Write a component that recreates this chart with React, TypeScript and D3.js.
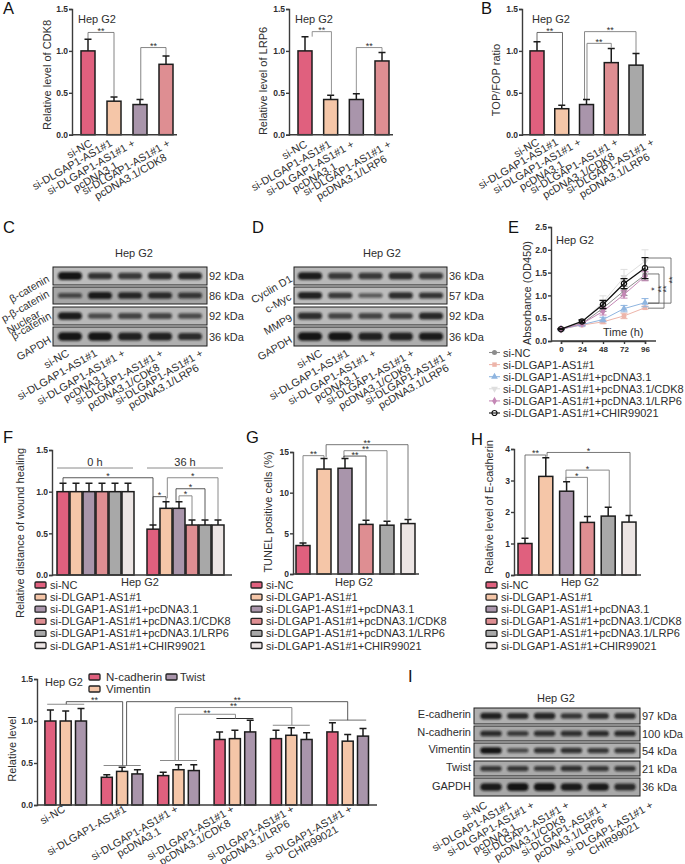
import * as d3 from 'd3';
import React, { useEffect, useRef } from 'react';

const FONT = '"Liberation Sans", Arial, sans-serif';
const INK = '#2e2e2e';
const GREY = '#8a8a8a';

const barColors = ['#e0607e', '#f5c6a8', '#a995ab', '#de8e92', '#a8a8a8', '#ece5e4'];

// category labels
const labelsLRP = [['si-NC'], ['si-DLGAP1-AS1#1'], ['si-DLGAP1-AS1#1 +', 'pcDNA3.1'], ['si-DLGAP1-AS1#1 +', 'pcDNA3.1/LRP6']];
const labelsCDK = [['si-NC'], ['si-DLGAP1-AS1#1'], ['si-DLGAP1-AS1#1 +', 'pcDNA3.1'], ['si-DLGAP1-AS1#1 +', 'pcDNA3.1/CDK8']];
const labelsBoth = [...labelsCDK, ['si-DLGAP1-AS1#1 +', 'pcDNA3.1/LRP6']];
const labelsAll = [...labelsBoth, ['si-DLGAP1-AS1#1 +', 'CHIR99021']];
const legendNames = [
  'si-NC',
  'si-DLGAP1-AS1#1',
  'si-DLGAP1-AS1#1+pcDNA3.1',
  'si-DLGAP1-AS1#1+pcDNA3.1/CDK8',
  'si-DLGAP1-AS1#1+pcDNA3.1/LRP6',
  'si-DLGAP1-AS1#1+CHIR99021',
];

// from, to, top value, left end value, right end value, colour
type Bracket = [number, number, number, number, number, string, string?];

// A
const cdk8Values = [1.0, 0.4, 0.36, 0.84];
const cdk8Errors = [1.14, 0.45, 0.42, 0.94];
const cdk8Brackets: Bracket[] = [
  [0, 1, 1.22, 1.14, 0.46, '#666'],
  [2.03, 3, 1.04, 0.42, 0.94, '#666'],
];
const lrp6Values = [1.0, 0.42, 0.42, 0.88];
const lrp6Errors = [1.17, 0.47, 0.49, 0.98];
const lrp6Brackets: Bracket[] = [
  [0.28, 1.03, 1.23, 1.17, 0.48, '#777'],
  [2, 3, 1.04, 0.49, 0.98, '#777'],
];

// B
const topValues = [1.0, 0.31, 0.36, 0.86, 0.83];
const topErrors = [1.11, 0.35, 0.42, 1.03, 0.97];
const topBrackets: Bracket[] = [
  [0, 1.03, 1.22, 1.11, 0.35, '#444'],
  [1.92, 4, 1.23, 0.41, 0.97, GREY],
  [2.02, 3, 1.09, 0.42, 1.04, GREY],
];

// E
const hours = [0, 24, 48, 72, 96];
const eColors = ['#8c8c8c', '#edb5aa', '#8fb5e0', '#dedede', '#c487b5', '#111111'];
const eSymbols = [d3.symbolCircle, d3.symbolSquare, d3.symbolTriangle, d3.symbolTriangle, d3.symbolDiamond, d3.symbolCircle];
const eMeans = [
  [0.26, 0.38, 0.72, 1.1, 1.45],
  [0.26, 0.35, 0.42, 0.55, 0.73],
  [0.26, 0.36, 0.47, 0.71, 0.84],
  [0.26, 0.42, 0.85, 1.4, 1.75],
  [0.26, 0.38, 0.65, 1.02, 1.42],
  [0.26, 0.43, 0.8, 1.26, 1.6],
];
const eErrs = [
  [0.01, 0.02, 0.07, 0.1, 0.12],
  [0.01, 0.02, 0.04, 0.06, 0.03],
  [0.01, 0.02, 0.05, 0.07, 0.09],
  [0.01, 0.05, 0.14, 0.17, 0.25],
  [0.01, 0.03, 0.08, 0.08, 0.1],
  [0.01, 0.03, 0.09, 0.11, 0.23],
];
// top value, bottom value of the brackets right of 96 h
const eBrackets = [
  [1.47, 0.83],
  [1.62, 0.72],
  [1.82, 0.83],
];
// mark, value it sits at
const eMarks: [string, number][] = [['*', 1.14], ['**', 1.14], ['**', 1.14], ['**', 1.34]];

// F
const woundValues = [1, 1, 1, 1, 1, 1, 0.55, 0.8, 0.8, 0.6, 0.6, 0.6];
const woundErrors = [1.1, 1.1, 1.1, 1.1, 1.1, 1.1, 0.6, 0.88, 0.88, 0.66, 0.66, 0.66];
const woundColors = [...barColors, ...barColors];
const woundBrackets: Bracket[] = [
  [0, 6, 1.167, 1.1, 0.6, INK, '*'],
  [6, 7, 0.94, 0.6, 0.88, INK, '*'],
  [7.1, 11, 1.167, 0.92, 0.666, GREY, '*'],
  [7.77, 10, 1.035, 0.89, 0.666, INK, '*'],
  [8, 9, 0.95, 0.89, 0.666, GREY, '*'],
];

// G
const tunelValues = [3.5, 12.9, 13, 6.1, 6.0, 6.2];
const tunelErrors = [3.8, 14.2, 14.2, 6.6, 6.5, 6.7];
const tunelBrackets: Bracket[] = [
  [0, 1, 14.55, 3.85, 14.2, GREY, '**'],
  [1.1, 5, 15.9, 14.4, 6.85, '#555', '**'],
  [1.95, 4, 15.16, 14.3, 6.65, GREY, '**'],
  [1.95, 3, 14.5, 14.3, 6.7, INK, '**'],
];

// H
const ecadValues = [1.0, 3.13, 2.66, 1.67, 1.87, 1.68];
const ecadErrors = [1.17, 3.72, 2.96, 1.86, 2.15, 1.89];
const ecadBrackets: Bracket[] = [
  [0, 1, 3.81, 1.19, 3.73, '#555', '**'],
  [1.06, 5.05, 3.89, 3.76, 1.9, '#555', '*'],
  [1.97, 4.05, 3.33, 2.99, 2.16, GREY, '*'],
  [1.97, 3, 3.1, 2.99, 1.88, GREY, '*'],
];

// bottom grouped chart
const seriesNames = ['N-cadherin', 'Vimentin', 'Twist'];
const groupValues = [
  [1, 1, 1],
  [0.33, 0.4, 0.37],
  [0.35, 0.42, 0.41],
  [0.78, 0.79, 0.87],
  [0.79, 0.83, 0.78],
  [0.87, 0.76, 0.82],
];
const groupErrors = [
  [1.13, 1.12, 1.15],
  [0.36, 0.45, 0.42],
  [0.39, 0.48, 0.48],
  [0.87, 0.89, 1.01],
  [0.89, 0.92, 0.86],
  [0.98, 0.84, 0.91],
];
const groupCaps = [1.2, 0.47, 0.53, 1.03, 0.95, 1.01];
const groupBrackets: Bracket[] = [
  [0.01, 1.01, 1.23, 1.2, 0.47, INK, '**'],
  [1.08, 5, 1.23, 0.47, 1.01, INK, '**'],
  [1.94, 4.01, 1.16, 0.53, 0.95, GREY, '**'],
  [2, 3.01, 1.08, 0.53, 1.03, GREY, '**'],
];

// blots: band strength per lane
const blotC = {
  kda: ['92 kDa', '86 kDa', '92 kDa', '36 kDa'],
  tone: ['#bcbcbc', '#a6a6a6', '#b8b8b8', '#b0b0b0'],
  bands: [
    [1.0, 0.75, 0.7, 0.8, 0.85],
    [0.55, 0.95, 0.85, 0.8, 0.7],
    [0.95, 0.55, 0.6, 0.6, 0.55],
    [1.0, 1.0, 0.9, 0.9, 0.8],
  ],
};
const blotD = {
  kda: ['36 kDa', '57 kDa', '92 kDa', '36 kDa'],
  tone: ['#b8b8b8', '#bcbcbc', '#bababa', '#aeaeae'],
  bands: [
    [0.95, 0.7, 0.7, 0.8, 0.7],
    [0.9, 0.7, 0.45, 0.8, 0.75],
    [0.8, 0.6, 0.6, 0.65, 0.85],
    [1.0, 1.0, 0.9, 0.9, 0.95],
  ],
};
const blotI = {
  rows: ['E-cadherin', 'N-cadherin', 'Vimentin', 'Twist', 'GAPDH'],
  kda: ['97 kDa', '100 kDa', '54 kDa', '21 kDa', '36 kDa'],
  tone: ['#b0b0b0', '#a8a8a8', '#b0b0b0', '#aaaaaa', '#a8a8a8'],
  bands: [
    [0.9, 0.8, 0.85, 0.7, 0.75, 0.75],
    [0.8, 0.65, 0.75, 0.75, 0.8, 0.8],
    [1.0, 0.55, 0.75, 0.75, 0.7, 0.7],
    [0.7, 0.7, 0.65, 0.75, 0.7, 0.7],
    [0.95, 1.0, 1.0, 0.95, 0.95, 0.8],
  ],
};

const T = (p: any) => <text fontFamily={FONT} fill={INK} fontSize={11} {...p} />;

const YAxis: React.FC<{ y: any; x: number; ticks: number[]; fmt: string }> = ({ y, x, ticks, fmt }) => {
  const ref = useRef<SVGGElement | null>(null);
  useEffect(() => {
    if (!ref.current) return;
    const g = d3.select(ref.current);
    g.call(d3.axisLeft(y).tickValues(ticks).tickFormat(d3.format(fmt) as any).tickSize(3).tickPadding(1) as any);
    g.selectAll('path,line').attr('stroke', '#3c3c3c').attr('stroke-width', 1.4);
    g.selectAll('text').attr('font-family', FONT).attr('font-weight', 'bold').attr('font-size', 8.5).attr('fill', INK);
  }, [y, ticks, fmt]);
  return <g ref={ref} transform={`translate(${x},0)`} />;
};

const XAxisTicks: React.FC<{ x: any; y: number; ticks: number[] }> = ({ x, y, ticks }) => {
  const ref = useRef<SVGGElement | null>(null);
  useEffect(() => {
    if (!ref.current) return;
    const g = d3.select(ref.current);
    g.call(d3.axisBottom(x).tickValues(ticks).tickFormat(d3.format('d') as any).tickSize(3).tickPadding(2) as any);
    g.selectAll('path,line').attr('stroke', '#3c3c3c').attr('stroke-width', 1.4);
    g.selectAll('text').attr('font-family', FONT).attr('font-weight', 'bold').attr('font-size', 8).attr('fill', INK);
  }, [x, y, ticks]);
  return <g ref={ref} transform={`translate(0,${y})`} />;
};

const Brackets: React.FC<{ list: Bracket[]; x: any; y: any }> = ({ list, x, y }) => (
  <g>
    {list.map((b, i) => {
      const [from, to, top, l, r, color, mark] = b;
      const path = d3.line()([[x(from), y(l)], [x(from), y(top)], [x(to), y(top)], [x(to), y(r)]]);
      return (
        <g key={i}>
          <path d={path as string} fill="none" stroke={color} strokeWidth={color === GREY ? 1 : 0.8} />
          <T x={(x(from) + x(to)) / 2} y={y(top) + 1.5} textAnchor="middle" fontSize={9}>{mark ?? '**'}</T>
        </g>
      );
    })}
  </g>
);

const Bars: React.FC<{ cx: number[]; values: number[]; errors: number[]; colors: string[]; y: any; w: number }> = ({ cx, values, errors, colors, y, w }) => (
  <g>
    {values.map((v, i) => (
      <g key={i} stroke="#1c1c1c" strokeWidth={1.5}>
        <path d={`M${cx[i]},${y(v)}V${y(errors[i])}M${cx[i] - 3.5},${y(errors[i])}H${cx[i] + 3.5}`} fill="none" />
        <rect x={cx[i] - w / 2} y={y(v)} width={w} height={y(0) - y(v)} fill={colors[i]} />
      </g>
    ))}
  </g>
);

// rotated labels, anchored at the middle of the end of the first line; second line centred under it
const CatLabels: React.FC<{ labels: string[][]; ends: number[]; y: number; fs: number }> = ({ labels, ends, y, fs }) => (
  <g>
    {labels.map((lines, i) => (
      <g key={i} transform={`translate(${ends[i]},${y}) rotate(-30)`}>
        <T x={0} y={fs * 0.35} textAnchor="end" fontSize={fs}>{lines[0]}</T>
        {lines[1] && <T x={-fs * 4.6 - 1} y={fs * 0.35 + fs * 0.98} textAnchor="middle" fontSize={fs}>{lines[1]}</T>}
      </g>
    ))}
  </g>
);

const YTitle: React.FC<{ x: number; y: number; children: any }> = ({ x, y, children }) => (
  <T transform={`translate(${x},${y}) rotate(-90)`} textAnchor="middle">{children}</T>
);

const BarLegend: React.FC<{ x: number; y: number }> = ({ x, y }) => {
  const row = d3.scaleLinear().domain([0, 5]).range([y, y + 60.5]);
  return (
    <g>
      {legendNames.map((n, i) => (
        <g key={n}>
          <rect x={x} y={row(i) - 3} width={11} height={6} rx={1} fill={barColors[i]} stroke="#222" strokeWidth={1.3} />
          <T x={x + 15} y={row(i) + 4}>{n}</T>
        </g>
      ))}
    </g>
  );
};

const Blot: React.FC<{ id: string; data: any; x0: number; x1: number; lanes: [number, number]; rowY: [number, number][] }> = ({ id, data, x0, x1, lanes, rowY }) => {
  const n = data.bands[0].length;
  const lane = d3.scaleLinear().domain([0, n - 1]).range(lanes);
  const pitch = (lanes[1] - lanes[0]) / (n - 1);
  return (
    <g>
      {data.bands.map((row: number[], r: number) => {
        const [top, bot] = rowY[r];
        const h = bot - top;
        const mid = (top + bot) / 2;
        return (
          <g key={r}>
            <clipPath id={`${id}${r}`}><rect x={x0} y={top} width={x1 - x0} height={h} /></clipPath>
            <rect x={x0} y={top} width={x1 - x0} height={h} fill={data.tone[r]} />
            <g clipPath={`url(#${id}${r})`}>
              {row.map((s, i) => {
                const bh = h * (0.14 + 0.3 * s);
                return (
                  <rect key={i} x={lane(i) - pitch * 0.4} y={mid - bh / 2} width={pitch * 0.8} height={bh} rx={bh / 2}
                    fill="#101010" opacity={0.25 + s * 0.7} filter="url(#bandBlur)" />
                );
              })}
            </g>
            <rect x={x0} y={top} width={x1 - x0} height={h} fill="none" stroke="#1c1c1c" strokeWidth={1} />
          </g>
        );
      })}
      {data.kda.map((k: string, r: number) => (
        <T key={k + r} x={x1 + 2} y={(rowY[r][0] + rowY[r][1]) / 2 + 4}>{k}</T>
      ))}
    </g>
  );
};

const Rotated: React.FC<{ x: number; y: number; children: any; fs?: number }> = ({ x, y, children, fs = 10.6 }) => (
  <T transform={`translate(${x},${y}) rotate(-30)`} textAnchor="end" fontSize={fs}>{children}</T>
);

const PanelLetter: React.FC<{ x: number; y: number; children: any }> = ({ x, y, children }) => (
  <T x={x} y={y} fontSize={16.5} fill="#111">{children}</T>
);

const BarPanel: React.FC<{
  values: number[]; errors: number[]; colors: string[]; brackets: Bracket[];
  xr: [number, number]; axisX: number; axisEnd: number; yr: [number, number]; yMax: number; ticks: number[]; fmt: string; w: number;
}> = ({ values, errors, colors, brackets, xr, axisX, axisEnd, yr, yMax, ticks, fmt, w }) => {
  const x = d3.scaleLinear().domain([0, values.length - 1]).range(xr);
  const y = d3.scaleLinear().domain([0, yMax]).range(yr);
  return (
    <g>
      <Brackets list={brackets} x={x} y={y} />
      <Bars cx={values.map((_, i) => x(i))} values={values} errors={errors} colors={colors} y={y} w={w} />
      <YAxis y={y} x={axisX} ticks={ticks} fmt={fmt} />
      <line x1={axisX} x2={axisEnd} y1={y(0)} y2={y(0)} stroke="#3c3c3c" strokeWidth={1.5} />
    </g>
  );
};

const WoundPanel: React.FC = () => {
  const x0h = d3.scaleLinear().domain([0, 5]).range([63, 128]);
  const x36h = d3.scaleLinear().domain([6, 11]).range([153, 218]);
  const pos = (i: number) => (i < 6 ? x0h(i) : x36h(i));
  const y = d3.scaleLinear().domain([0, 1.5]).range([575, 450]);
  return (
    <g>
      <path d="M57,468H133M147,468H223" stroke={GREY} strokeWidth={1} fill="none" />
      <T x={95} y={466} textAnchor="middle">0 h</T>
      <T x={185} y={466} textAnchor="middle">36 h</T>
      <Brackets list={woundBrackets} x={pos} y={y} />
      <Bars cx={woundValues.map((_, i) => pos(i))} values={woundValues} errors={woundErrors} colors={woundColors} y={y} w={12} />
      <YAxis y={y} x={52} ticks={[0, 0.5, 1, 1.5]} fmt=".1f" />
      <line x1={52} x2={232} y1={y(0)} y2={y(0)} stroke="#3c3c3c" strokeWidth={1.5} />
    </g>
  );
};

const EPanel: React.FC = () => {
  const x = d3.scaleLinear().domain([0, 96]).range([561, 645]);
  const y = d3.scaleLinear().domain([0, 2.5]).range([341, 227]);
  const line = d3.line<number>().x((_, i) => x(hours[i])).y((d) => y(d));
  const sym = (i: number, size: number) => d3.symbol().type(eSymbols[i]).size(size)() as string;
  const legendRow = d3.scaleLinear().domain([0, 5]).range([352.5, 413]);
  const right = x(96);
  return (
    <g>
      {eMeans.map((vals, s) => (
        <g key={s} stroke={eColors[s]} fill="none" strokeWidth={s === 5 ? 1.3 : 1}>
          <path d={line(vals) as string} />
          {vals.map((v, i) => {
            const e = eErrs[s][i];
            return (
              <g key={i}>
                <path d={`M${x(hours[i])},${y(v - e)}V${y(v + e)}M${x(hours[i]) - 3.5},${y(v + e)}h7M${x(hours[i]) - 3.5},${y(v - e)}h7`} />
                <path transform={`translate(${x(hours[i])},${y(v)})${s === 3 ? ' rotate(180)' : ''}`} d={sym(s, 22)}
                  fill={s === 5 ? 'none' : eColors[s]} stroke={s === 5 ? '#111' : 'none'} strokeWidth={1.2} />
              </g>
            );
          })}
        </g>
      ))}
      {eBrackets.map((b, i) => {
        const bx = right + [14, 19, 26][i];
        return (
          <path key={i} d={`M${right + 3},${y(b[0])}H${bx}V${y(b[1])}H${right + 3}`} fill="none" stroke="#555" strokeWidth={0.8} />
        );
      })}
      {eMarks.map((m, i) => (
        <T key={i} transform={`translate(${right + [12, 18.5, 23.5, 30][i]},${y(m[1])}) rotate(-90)`} textAnchor="middle" fontSize={9}>{m[0]}</T>
      ))}
      <YAxis y={y} x={551} ticks={[0, 0.5, 1, 1.5, 2, 2.5]} fmt=".1f" />
      <XAxisTicks x={x} y={341} ticks={hours} />
      <line x1={551} x2={656} y1={341} y2={341} stroke="#3c3c3c" strokeWidth={1.4} />
      <T x={603} y={336}>Time (h)</T>
      {legendNames.map((n, i) => (
        <g key={n}>
          <line x1={489} x2={500} y1={legendRow(i)} y2={legendRow(i)} stroke={eColors[i]} strokeWidth={1.1} />
          <path transform={`translate(494.5,${legendRow(i)})${i === 3 ? ' rotate(180)' : ''}`} d={sym(i, 20)}
            fill={i === 5 ? 'none' : eColors[i]} stroke={i === 5 ? '#111' : 'none'} strokeWidth={1.2} />
          <T x={503} y={legendRow(i) + 4}>{n}</T>
        </g>
      ))}
    </g>
  );
};

const GroupPanel: React.FC = () => {
  const x = d3.scaleLinear().domain([0, 5]).range([65.7, 347.7]);
  const inner = d3.scaleLinear().domain([0, 2]).range([-15.3, 15.3]);
  const y = d3.scaleLinear().domain([0, 1.5]).range([805, 679]);
  return (
    <g>
      {groupCaps.map((c, i) => (
        <line key={i} x1={x(i) - 18.5} x2={x(i) + 18.5} y1={y(c)} y2={y(c)} stroke={i === 3 ? INK : GREY} strokeWidth={1.1} />
      ))}
      <Brackets list={groupBrackets} x={x} y={y} />
      {groupValues.map((vals, g) => (
        <Bars key={g} cx={vals.map((_, i) => x(g) + inner(i))} values={vals} errors={groupErrors[g]} colors={barColors} y={y} w={11} />
      ))}
      <YAxis y={y} x={37} ticks={[0, 0.5, 1, 1.5]} fmt=".1f" />
      <line x1={37} x2={377} y1={y(0)} y2={y(0)} stroke="#3c3c3c" strokeWidth={1.5} />
      <T x={45} y={686}>Hep G2</T>
      {seriesNames.map((n, i) => {
        const lx = i === 2 ? 166 : 89;
        const ly = i === 1 ? 689 : 677;
        return (
          <g key={n}>
            <rect x={lx} y={ly - 3} width={11} height={6} rx={1} fill={barColors[i]} stroke="#222" strokeWidth={1.3} />
            <T x={lx + (i === 2 ? 14 : 17)} y={ly + 4} fontSize={i === 2 ? 11 : 11.5}>{n}</T>
          </g>
        );
      })}
    </g>
  );
};

const rowsCD: [number, number][] = [[267, 285], [287, 304], [307, 325], [327, 346]];
const rowsI: [number, number][] = [[708, 724], [726, 741], [743, 758], [761, 776], [778, 796]];

export default function App() {
  return (
    <svg width={685} height={864} viewBox="0 0 685 864" style={{ position: 'absolute', left: 0, top: 0, background: '#fff' }}>
      <defs>
        <filter id="bandBlur" x="-30%" y="-80%" width="160%" height="260%">
          <feGaussianBlur stdDeviation="0.9" />
        </filter>
      </defs>

      {/* A */}
      <PanelLetter x={3} y={14}>A</PanelLetter>
      <T x={78} y={23}>Hep G2</T>
      <YTitle x={51} y={75}>Relative level of CDK8</YTitle>
      <BarPanel values={cdk8Values} errors={cdk8Errors} colors={barColors} brackets={cdk8Brackets}
        xr={[88, 166]} axisX={72} axisEnd={177} yr={[134.7, 9]} yMax={1.5} ticks={[0, 0.5, 1, 1.5]} fmt=".1f" w={14} />
      <CatLabels labels={labelsCDK} ends={[91, 111, 134, 169]} y={142} fs={10.8} />

      <T x={295} y={23}>Hep G2</T>
      <YTitle x={267} y={81}>Relative level of LRP6</YTitle>
      <BarPanel values={lrp6Values} errors={lrp6Errors} colors={barColors} brackets={lrp6Brackets}
        xr={[305, 382]} axisX={289} axisEnd={393} yr={[134.7, 9]} yMax={1.5} ticks={[0, 0.5, 1, 1.5]} fmt=".1f" w={14} />
      <CatLabels labels={labelsLRP} ends={[306, 330, 353, 390]} y={143} fs={10.8} />

      {/* B */}
      <PanelLetter x={481} y={14}>B</PanelLetter>
      <T x={532} y={23}>Hep G2</T>
      <YTitle x={500} y={80}>TOP/FOP ratio</YTitle>
      <BarPanel values={topValues} errors={topErrors} colors={barColors} brackets={topBrackets}
        xr={[537, 636]} axisX={522} axisEnd={646} yr={[134.7, 9]} yMax={1.5} ticks={[0, 0.5, 1, 1.5]} fmt=".1f" w={14} />
      <CatLabels labels={labelsBoth} ends={[538, 557, 580, 617, 653]} y={141} fs={10.8} />

      {/* C */}
      <PanelLetter x={3} y={233}>C</PanelLetter>
      <T x={115} y={257}>Hep G2</T>
      <Blot id="c" data={blotC} x0={53} x1={207} lanes={[70, 190]} rowY={rowsCD} />
      <Rotated x={50} y={281}>β-catenin</Rotated>
      <Rotated x={50} y={296}>p-β-catenin</Rotated>
      <Rotated x={41} y={316}>Nuclear</Rotated>
      <Rotated x={52} y={318}>β-catenin</Rotated>
      <Rotated x={52} y={342}>GAPDH</Rotated>
      <CatLabels labels={labelsBoth} ends={[68, 96, 124, 162, 202]} y={352} fs={10.8} />

      {/* D */}
      <PanelLetter x={252} y={233}>D</PanelLetter>
      <T x={363} y={257}>Hep G2</T>
      <Blot id="d" data={blotD} x0={294} x1={447} lanes={[310, 431]} rowY={rowsCD} />
      <Rotated x={293} y={281}>Cyclin D1</Rotated>
      <Rotated x={292} y={299}>c-Myc</Rotated>
      <Rotated x={293} y={320}>MMP9</Rotated>
      <Rotated x={293} y={342}>GAPDH</Rotated>
      <CatLabels labels={labelsBoth} ends={[321, 348, 375, 413, 452]} y={352} fs={10.8} />

      {/* E */}
      <PanelLetter x={508} y={233}>E</PanelLetter>
      <T x={556} y={244}>Hep G2</T>
      <YTitle x={531} y={293}>Absorbance (OD450)</YTitle>
      <EPanel />

      {/* F */}
      <PanelLetter x={3} y={443}>F</PanelLetter>
      <YTitle x={24} y={533}>Relative distance of wound healing</YTitle>
      <WoundPanel />
      <T x={140} y={586} textAnchor="middle">Hep G2</T>
      <BarLegend x={35} y={585} />

      {/* G */}
      <PanelLetter x={246} y={443}>G</PanelLetter>
      <YTitle x={272} y={512}>TUNEL positive cells (%)</YTitle>
      <BarPanel values={tunelValues} errors={tunelErrors} colors={barColors} brackets={tunelBrackets}
        xr={[303, 408]} axisX={293} axisEnd={419} yr={[574, 452]} yMax={15} ticks={[0, 5, 10, 15]} fmt="d" w={14} />
      <T x={354} y={586} textAnchor="middle">Hep G2</T>
      <BarLegend x={251} y={585} />

      {/* H */}
      <PanelLetter x={471} y={445}>H</PanelLetter>
      <YTitle x={493} y={507}>Relative level of E-cadherin</YTitle>
      <BarPanel values={ecadValues} errors={ecadErrors} colors={barColors} brackets={ecadBrackets}
        xr={[525, 629]} axisX={514} axisEnd={641} yr={[575, 449]} yMax={4} ticks={[0, 1, 2, 3, 4]} fmt="d" w={14} />
      <T x={580} y={586} textAnchor="middle">Hep G2</T>
      <BarLegend x={486} y={585} />

      {/* bottom left */}
      <YTitle x={16} y={749}>Relative level</YTitle>
      <GroupPanel />
      <CatLabels labels={labelsAll} ends={[64, 125, 177, 233, 293, 351]} y={808} fs={10.7} />

      {/* I */}
      <PanelLetter x={408} y={682}>I</PanelLetter>
      <T x={537} y={702}>Hep G2</T>
      <Blot id="i" data={blotI} x0={474} x1={640} lanes={[491, 625]} rowY={rowsI} />
      {blotI.rows.map((n, i) => (
        <T key={n} x={471} y={[718, 736, 753, 771, 790][i]} textAnchor="end">{n}</T>
      ))}
      <CatLabels labels={labelsAll} ends={[486, 510, 533, 568, 607, 652]} y={804} fs={10.7} />
    </svg>
  );
}
